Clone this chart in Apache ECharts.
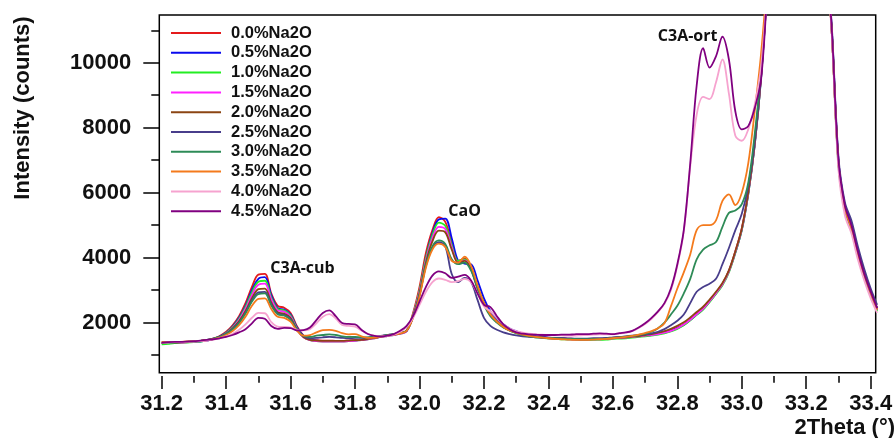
<!DOCTYPE html>
<html>
<head>
<meta charset="utf-8">
<script src="https://cdn.jsdelivr.net/npm/echarts@6/dist/echarts.min.js"></script>
<style>
  html, body { margin: 0; padding: 0; background: #fff; }
  #chart { width: 896px; height: 438px; }
</style>
</head>
<body>
<div id="chart"></div>
<script>
// 2-theta sampling grid: 31.20 ... 33.42 in 0.02 degree steps
const thetaStart = 31.2;
const thetaStep = 0.02;
const pointCount = 112;

const seriesNames = ['0.0%Na2O', '0.5%Na2O', '1.0%Na2O', '1.5%Na2O', '2.0%Na2O',
                     '2.5%Na2O', '3.0%Na2O', '3.5%Na2O', '4.0%Na2O', '4.5%Na2O'];

// Measured intensities (counts), one array per Na2O content
const na0_0 = [
  1370,1380,1390,1380,1400,1410,1430,1460,1510,1590,
  1720,1920,2200,2600,3100,3480,3500,2900,2520,2460,
  2300,1880,1600,1490,1460,1450,1450,1440,1440,1450,
  1460,1480,1510,1540,1580,1610,1640,1680,1760,2300,
  3100,4150,4850,5250,5100,4450,3900,3980,3650,3050,
  2600,2250,2050,1880,1780,1700,1640,1600,1570,1550,
  1540,1530,1520,1510,1500,1490,1490,1500,1500,1510,
  1530,1540,1550,1570,1590,1610,1630,1660,1700,1760,
  1840,1950,2100,2280,2450,2680,2930,3200,3600,4200,
  4900,6000,7500,9600,12600,16500,21000,26000,30000,32000,
  30500,25000,19000,14000,10800,6900,5500,4900,4100,3450,2900,2400];
const na0_5 = [
  1380,1390,1380,1400,1410,1410,1420,1450,1490,1570,
  1690,1880,2150,2520,3000,3350,3400,2850,2450,2400,
  2250,1850,1590,1480,1450,1440,1440,1440,1430,1440,
  1450,1470,1500,1530,1570,1600,1630,1670,1740,2200,
  2950,4000,4750,5180,5200,4600,3900,3820,3800,3300,
  2750,2350,2120,1950,1820,1740,1670,1620,1590,1560,
  1540,1530,1520,1510,1500,1490,1490,1490,1500,1510,
  1520,1530,1540,1560,1580,1600,1620,1650,1690,1750,
  1830,1930,2080,2250,2420,2650,2900,3180,3580,4150,
  4850,5950,7450,9550,12500,16400,21000,26000,30000,32000,
  30500,25000,19000,14000,10900,7000,5600,5050,4250,3550,2950,2450];
const na1_0 = [
  1330,1350,1370,1380,1390,1400,1420,1450,1490,1560,
  1680,1860,2120,2480,2930,3260,3290,2780,2420,2380,
  2220,1820,1560,1460,1430,1420,1420,1420,1420,1430,
  1440,1460,1490,1520,1560,1590,1620,1660,1740,2250,
  3000,4000,4700,5080,4980,4380,3900,3950,3700,3100,
  2620,2260,2040,1870,1760,1680,1620,1580,1550,1530,
  1510,1500,1490,1480,1470,1460,1460,1470,1470,1480,
  1500,1510,1520,1540,1560,1580,1600,1630,1670,1730,
  1810,1920,2070,2240,2400,2630,2880,3150,3550,4150,
  4850,5950,7450,9550,12500,16400,21000,26000,30000,32000,
  30500,25000,19000,14000,10800,6800,5450,4850,4050,3400,2850,2350];
const na1_5 = [
  1390,1400,1400,1390,1400,1410,1430,1450,1490,1560,
  1670,1840,2080,2420,2850,3170,3200,2720,2380,2340,
  2180,1800,1550,1460,1430,1420,1420,1420,1420,1430,
  1440,1460,1490,1520,1560,1590,1620,1660,1740,2230,
  2950,3920,4600,4950,4880,4320,3850,3920,3680,3080,
  2600,2250,2030,1870,1760,1690,1630,1590,1560,1540,
  1520,1510,1500,1490,1480,1480,1480,1490,1490,1500,
  1520,1530,1540,1560,1580,1600,1620,1650,1690,1750,
  1830,1940,2090,2260,2430,2660,2910,3180,3580,4180,
  4880,5980,7480,9580,12500,16400,21000,26000,30000,32000,
  30500,25000,19000,14000,10800,6900,5500,4900,4100,3450,2900,2400];
const na2_0 = [
  1400,1400,1390,1400,1410,1420,1440,1460,1500,1560,
  1660,1820,2040,2350,2750,3030,3050,2620,2320,2280,
  2140,1790,1560,1470,1450,1440,1440,1440,1440,1450,
  1460,1470,1500,1530,1570,1600,1630,1670,1750,2200,
  2900,3850,4500,4830,4780,4250,3850,3900,3650,3080,
  2600,2250,2040,1880,1770,1700,1640,1600,1570,1550,
  1530,1520,1510,1500,1500,1490,1490,1500,1500,1510,
  1530,1540,1550,1570,1590,1620,1650,1690,1740,1810,
  1900,2010,2160,2330,2490,2710,2950,3220,3610,4200,
  4900,6000,7500,9600,12600,16500,21000,26000,30000,32000,
  30500,25000,19000,14000,10800,6900,5500,4950,4150,3500,2950,2450];
const na2_5 = [
  1380,1390,1400,1400,1410,1420,1440,1470,1510,1570,
  1660,1800,2000,2300,2680,2930,2950,2560,2280,2240,
  2100,1780,1580,1520,1530,1550,1560,1550,1530,1520,
  1530,1530,1540,1560,1590,1620,1650,1690,1760,2180,
  2850,3750,4300,4480,4350,3500,3250,3380,3250,2700,
  2150,1900,1780,1700,1650,1610,1580,1560,1550,1540,
  1530,1520,1520,1510,1510,1510,1510,1520,1520,1530,
  1550,1560,1580,1600,1620,1640,1670,1720,1800,1920,
  2060,2250,2600,2950,3100,3200,3350,3800,4300,4850,
  5350,6200,7600,9700,12600,16500,21000,26000,30000,32000,
  30500,25000,19000,14000,11000,7100,5700,5150,4350,3650,3050,2550];
const na3_0 = [
  1370,1380,1390,1400,1410,1420,1440,1470,1510,1560,
  1650,1790,1990,2280,2650,2880,2900,2530,2260,2220,
  2090,1780,1590,1560,1600,1620,1640,1620,1580,1560,
  1560,1550,1550,1570,1590,1620,1650,1690,1760,2180,
  2850,3780,4350,4530,4420,3950,3800,3850,3600,3050,
  2550,2200,2000,1850,1750,1680,1620,1580,1560,1540,
  1530,1520,1510,1500,1500,1490,1490,1500,1500,1510,
  1530,1550,1570,1590,1620,1660,1720,1830,2000,2250,
  2520,2900,3350,3950,4250,4380,4480,4950,5380,5450,
  5650,6300,7800,9800,12600,16500,21000,26000,30000,32000,
  30500,25000,19000,14000,10800,6900,5500,4900,4100,3450,2900,2400];
const na3_5 = [
  1390,1400,1400,1410,1420,1430,1440,1460,1490,1540,
  1620,1740,1920,2180,2520,2730,2750,2420,2180,2150,
  2030,1750,1600,1620,1700,1770,1780,1750,1680,1640,
  1650,1580,1530,1540,1570,1600,1630,1670,1750,2150,
  2800,3700,4250,4430,4330,3900,3850,4030,3750,3150,
  2600,2250,2030,1870,1760,1690,1630,1590,1560,1540,
  1520,1500,1490,1480,1470,1470,1470,1480,1490,1500,
  1520,1540,1560,1590,1630,1680,1740,1830,1980,2500,
  3050,3550,4100,4850,5000,5000,5150,5750,5950,5620,
  6000,6900,8500,10300,12800,16500,21000,26000,30000,32000,
  30500,25000,19000,14000,10800,6900,5500,4900,4100,3450,2900,2400];
const na4_0 = [
  1380,1390,1400,1400,1410,1420,1430,1450,1480,1520,
  1580,1660,1780,1950,2150,2300,2290,2020,1880,1870,
  1850,1780,1760,1800,1980,2180,2260,2130,1930,1900,
  1880,1760,1650,1600,1580,1590,1630,1720,1860,2150,
  2550,2950,3250,3360,3320,3250,3280,3350,3250,2900,
  2500,2350,2150,1950,1820,1740,1690,1660,1640,1630,
  1620,1610,1610,1600,1600,1610,1620,1630,1640,1640,
  1640,1660,1690,1740,1840,1960,2120,2330,2580,3000,
  3750,4800,6800,8400,8950,8880,9400,10100,9050,7750,
  7600,7950,8700,9900,12500,16500,21000,26000,30000,32000,
  30500,25000,19000,14000,10700,6700,5300,4750,3950,3300,2750,2300];
const na4_5 = [
  1380,1400,1410,1410,1420,1430,1450,1470,1490,1520,
  1560,1620,1700,1800,1980,2150,2120,1900,1810,1840,
  1830,1760,1770,1850,2080,2300,2380,2200,1990,1960,
  1950,1780,1650,1590,1570,1600,1650,1750,1900,2200,
  2650,3100,3450,3580,3520,3380,3420,3470,3300,2900,
  2550,2480,2200,1950,1800,1700,1660,1640,1630,1620,
  1620,1620,1630,1630,1640,1650,1650,1660,1670,1660,
  1650,1680,1700,1750,1850,1980,2150,2350,2600,3050,
  3800,4850,6900,9300,10450,9850,10200,10800,10100,8500,
  7950,8050,8600,9500,12500,16500,21000,26000,30000,32000,
  30500,25000,19000,14000,10900,7000,5600,5000,4200,3500,2950,2450];

const intensities = [na0_0, na0_5, na1_0, na1_5, na2_0, na2_5, na3_0, na3_5, na4_0, na4_5];

// Tick labels
const xTicks = { min: 31.2, max: 33.4, step: 0.2 };
const yTicks = { min: 2000, max: 10000, step: 2000 };

// Phase annotations: [text, 2theta, counts]
const phaseLabels = [
  ['C3A-cub', 31.637, 3670],
  ['CaO', 32.14, 5410],
  ['C3A-ort', 32.832, 10800]
];

const colors = ['#e41a1c', '#0a0aee', '#22ee22', '#ff20ff', '#8b4513',
                '#483d8b', '#2e8b57', '#f47a1c', '#f6a3cf', '#800080'];

const twoTheta = [];
for (let i = 0; i < pointCount; i++) twoTheta.push(+(thetaStart + i * thetaStep).toFixed(2));

const chart = echarts.init(document.getElementById('chart'), null, { renderer: 'canvas' });

const tickFont = { fontFamily: 'Liberation Sans, Arial, sans-serif', fontWeight: 'bold', fontSize: 22, color: '#111' };

// plot frame and data range
const plotLeft = 159.3, plotRight = 875.7, plotTop = 15, plotBottom = 372.7;
const xMin = 31.1926, xMax = 33.4155;
const yMin = 460, yMax = 11470;

function xPix(v) { return plotLeft + (v - xMin) / (xMax - xMin) * (plotRight - plotLeft); }
function yPix(v) { return plotBottom - (v - yMin) / (yMax - yMin) * (plotBottom - plotTop); }

const option = {
  animation: false,
  backgroundColor: '#fff',
  grid: [
    // data area with black frame
    { left: plotLeft, right: 896 - plotRight, top: plotTop, bottom: 438 - plotBottom,
      show: true, borderColor: '#000', borderWidth: 1.5, backgroundColor: 'transparent' },
    // x tick axis (31.2 .. 33.4), hung slightly below the frame
    { left: xPix(xTicks.min), right: 896 - xPix(xTicks.max), top: 100, bottom: 438 - (plotBottom + 3.3) },
    // y minor ticks (1000 .. 11000)
    { left: plotLeft, width: 100, top: yPix(11000), bottom: 438 - yPix(1000) },
    // y major ticks and labels (2000 .. 10000)
    { left: plotLeft, width: 100, top: yPix(yTicks.max), bottom: 438 - yPix(yTicks.min) }
  ],
  xAxis: [
    { gridIndex: 0, type: 'value', min: xMin, max: xMax, show: false },
    { gridIndex: 1, type: 'value', min: xTicks.min, max: xTicks.max, interval: xTicks.step,
      axisLine: { show: false }, splitLine: { show: false },
      axisTick: { show: true, length: 13, lineStyle: { color: '#000', width: 1.5 } },
      minorTick: { show: true, splitNumber: 2, length: 6.7, lineStyle: { color: '#000', width: 1.5 } },
      axisLabel: Object.assign({ margin: 17, formatter: v => v.toFixed(1) }, tickFont) },
    { gridIndex: 2, type: 'value', min: 0, max: 1, show: false },
    { gridIndex: 3, type: 'value', min: 0, max: 1, show: false }
  ],
  yAxis: [
    { gridIndex: 0, type: 'value', min: yMin, max: yMax, show: false },
    { gridIndex: 1, type: 'value', min: 0, max: 1, show: false },
    { gridIndex: 2, type: 'value', min: 1000, max: 11000, interval: 1000,
      axisLine: { show: false }, splitLine: { show: false }, axisLabel: { show: false },
      axisTick: { show: true, length: 8, lineStyle: { color: '#000', width: 1.5 } } },
    { gridIndex: 3, type: 'value', min: yTicks.min, max: yTicks.max, interval: yTicks.step,
      axisLine: { show: false }, splitLine: { show: false },
      axisTick: { show: true, length: 16, lineStyle: { color: '#000', width: 1.5 } },
      axisLabel: Object.assign({ margin: 28, formatter: v => String(Math.round(v)) }, tickFont) }
  ],
  legend: {
    orient: 'vertical',
    left: 166, top: 19,
    itemWidth: 50, itemHeight: 10, itemGap: 1.8,
    icon: 'path://M0,4 L50,4 L50,6 L0,6 Z',
    data: seriesNames,
    textStyle: { fontFamily: 'Liberation Sans, Arial, sans-serif', fontWeight: 'bold', fontSize: 16.5,
                 color: '#111', lineHeight: 18, padding: [0, 0, 0, 5] }
  },
  graphic: [
    { type: 'text', x: 895, y: 428,
      style: { text: '2Theta (°)', textAlign: 'right', textVerticalAlign: 'middle',
               font: 'bold 22px "Liberation Sans", Arial, sans-serif', fill: '#111' } },
    { type: 'text', x: 23, y: 108, rotation: Math.PI / 2,
      style: { text: 'Intensity (counts)', textAlign: 'center', textVerticalAlign: 'middle',
               font: 'bold 22px "Liberation Sans", Arial, sans-serif', fill: '#111' } }
  ].concat(phaseLabels.map(p => ({
    type: 'text', x: xPix(p[1]), y: yPix(p[2]),
    style: { text: p[0], textAlign: 'center', textVerticalAlign: 'middle',
             font: 'bold 16px "Open Sans", sans-serif', fill: '#111' }
  }))),
  series: seriesNames.map((name, k) => ({
    name: name,
    type: 'line',
    xAxisIndex: 0, yAxisIndex: 0,
    data: twoTheta.map((t, i) => [t, intensities[k][i]]),
    symbol: 'none',
    smooth: 0.35,
    clip: true,
    color: colors[k],
    lineStyle: { width: 1.8, color: colors[k] }
  }))
};

chart.setOption(option);
</script>
</body>
</html>
